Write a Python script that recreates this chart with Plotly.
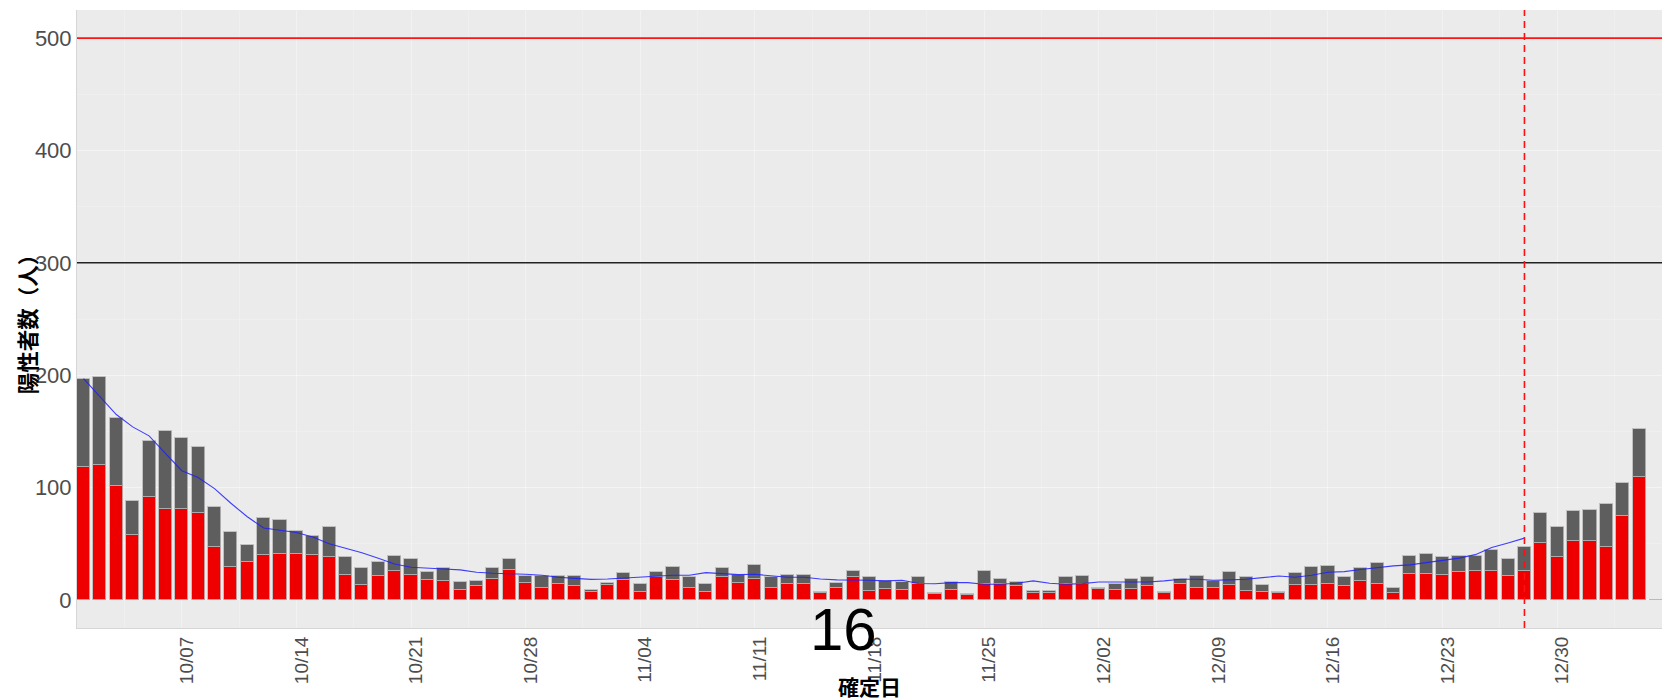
import plotly.graph_objects as go
import pandas as pd

# ---- data ----
dates = pd.date_range("2021-10-01", "2022-01-05", freq="D").strftime("%Y-%m-%d").tolist()

red_part = [118, 120, 101, 58, 92, 81, 81, 77, 47, 29, 34, 40, 41, 41, 40, 38,
            22, 13, 21, 26, 22, 18, 17, 9, 12, 19, 27, 15, 11, 14, 12, 7,
            13, 18, 7, 20, 18, 11, 7, 20, 15, 19, 11, 14, 14, 6, 11, 20,
            8, 10, 9, 14, 5, 9, 4, 14, 14, 12, 6, 6, 14, 14, 10, 9,
            10, 12, 6, 14, 11, 11, 13, 8, 7, 6, 13, 13, 14, 12, 17, 14,
            6, 23, 23, 22, 25, 26, 26, 21, 26, 51, 38, 52, 52, 47, 75, 109, 0]

gray_part = [79, 78, 61, 30, 49, 69, 63, 59, 36, 31, 15, 33, 30, 20, 17, 27,
             16, 15, 13, 13, 14, 7, 11, 7, 5, 9, 9, 6, 10, 7, 9, 2,
             2, 6, 7, 5, 11, 9, 7, 8, 7, 12, 9, 8, 8, 1, 4, 6,
             12, 7, 7, 6, 1, 7, 1, 12, 5, 4, 2, 2, 6, 7, 1, 5,
             9, 8, 1, 5, 10, 6, 12, 12, 6, 1, 11, 16, 16, 8, 11, 19,
             5, 16, 18, 16, 14, 13, 18, 15, 21, 26, 27, 27, 28, 38, 29, 43, 0]

avg_line = [197, 181, 165, 154, 146, 130.5, 115, 109, 99, 86, 74, 64, 62, 60, 56, 50,
            46, 42, 37, 32, 29, 28, 27.5, 26.7, 24.6, 23.7, 23.4, 22.8, 21.9, 20.1, 19.2, 18.3,
            18.6, 19.5, 19.8, 20.7, 21.9, 21.9, 24.3, 23.4, 22.5, 22.8, 21.4, 20.1, 20.1, 18.6, 17.8, 17.8,
            17.5, 16.9, 17.5, 14.6, 14.4, 15.4, 15.4, 14.0, 14.0, 14.8, 16.9, 14.8, 14.0, 14.5, 16.0, 16.0,
            16.0, 16.0, 16.9, 18.4, 18.4, 17.5, 17.8, 18.4, 19.8, 21.3, 20.1, 21.9, 24.6, 25.2, 27.0, 28.7,
            30.3, 31.2, 33.2, 34.8, 37.2, 40.3, 46.7, 50.7, 55.0]
avg_dates = dates[:len(avg_line)]

y_ticks = [0, 100, 200, 300, 400, 500]
line_red_level = 500
line_black_level = 300
cutoff_date = "2021-12-28"
x_range = ["2021-09-30 14:24", "2022-01-05 09:36"]
frame_label = "16"

DAY = 86400000
num_font = "Liberation Sans, Arial, sans-serif"
cjk_font = "Noto Sans CJK JP, sans-serif"

fig = go.Figure()
bar_line = dict(color="rgba(185,185,185,0.85)", width=1)
fig.add_trace(go.Bar(x=dates, y=red_part, width=0.8 * DAY,
                     marker=dict(color="#EE0000", line=bar_line),
                     hoverinfo="x+y", showlegend=False))
fig.add_trace(go.Bar(x=dates, y=gray_part, width=0.8 * DAY,
                     marker=dict(color="#5E5E5E", line=bar_line),
                     hoverinfo="x+y", showlegend=False))
fig.add_trace(go.Scatter(x=avg_dates, y=avg_line, mode="lines",
                         line=dict(color="rgba(30,30,255,0.85)", width=1.1),
                         showlegend=False))

fig.add_shape(type="line", xref="paper", x0=0, x1=1, yref="y",
              y0=line_red_level, y1=line_red_level,
              line=dict(color="rgba(255,20,20,1)", width=1.6))
fig.add_shape(type="line", xref="paper", x0=0, x1=1, yref="y",
              y0=line_black_level, y1=line_black_level,
              line=dict(color="#222222", width=1.6))
fig.add_shape(type="line", xref="x", x0=cutoff_date, x1=cutoff_date,
              yref="paper", y0=0, y1=1,
              line=dict(color="#FF1010", width=1.6, dash="7px,5px"))

fig.add_annotation(text=frame_label, xref="paper", yref="paper",
                   x=0.4835, y=-0.002, xanchor="center", yanchor="middle",
                   showarrow=False, font=dict(family=num_font, size=60, color="black"))
fig.add_annotation(text="確定日", xref="paper", yref="paper",
                   x=0.5, y=-0.094, xanchor="center", yanchor="middle",
                   showarrow=False,
                   font=dict(family=cjk_font, size=21, color="black", weight="bold"))
fig.add_annotation(text="陽性者数（人）", xref="paper", yref="paper",
                   x=-0.032, y=0.5, xanchor="center", yanchor="middle",
                   textangle=-90, showarrow=False,
                   font=dict(family=cjk_font, size=21.5, color="black", weight="bold"))

# page body has an 8px margin, so the figure is sized to fill the rest of the window
fig.update_layout(
    width=1667, height=692,
    margin=dict(l=69, r=13, t=2, b=72),
    barmode="stack", bargap=0,
    paper_bgcolor="white", plot_bgcolor="#EBEBEB",
    showlegend=False,
    xaxis=dict(type="date", range=x_range, tick0="2021-10-07", dtick=7 * DAY,
               tickformat="%m/%d", tickangle=-90, ticklabelshift=5,
               tickfont=dict(family=num_font, size=19, color="#4D4D4D"),
               showgrid=True, gridcolor="rgba(255,255,255,0.35)", gridwidth=1,
               minor=dict(dtick=3.5 * DAY, tick0="2021-10-07", showgrid=True,
                          gridcolor="rgba(255,255,255,0.2)", gridwidth=1),
               showline=True, linecolor="#D6D6D6", linewidth=1,
               zeroline=False, ticks="", ticklen=0, fixedrange=True,
               automargin=False),
    yaxis=dict(range=[-25, 525], tickvals=y_ticks,
               tickfont=dict(family=num_font, size=22, color="#4D4D4D"),
               showgrid=True, gridcolor="rgba(255,255,255,0.35)", gridwidth=1,
               minor=dict(dtick=50, showgrid=True,
                          gridcolor="rgba(255,255,255,0.2)", gridwidth=1),
               showline=True, linecolor="#D6D6D6", linewidth=1,
               zeroline=False, ticks="", ticklen=0, fixedrange=True,
               automargin=False),
)

fig.write_html("out.html")
